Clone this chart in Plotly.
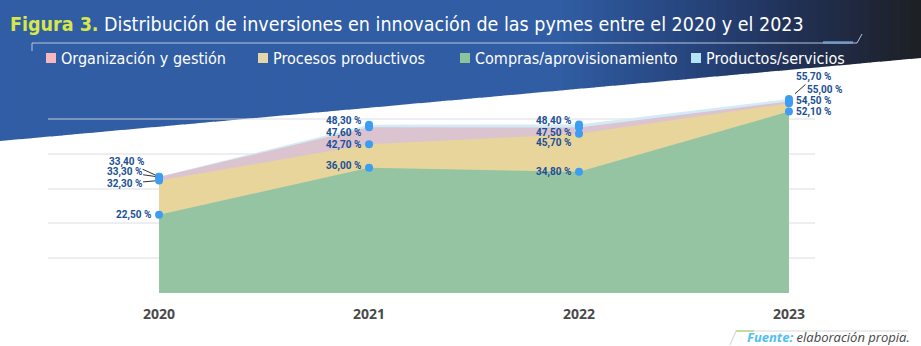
import plotly.graph_objects as go

# Investment shares (%) by innovation type, 2020-2023
years = [2020, 2021, 2022, 2023]
organizacion = [33.3, 47.6, 47.5, 55.0]
procesos = [32.3, 42.7, 45.7, 54.5]
compras = [22.5, 36.0, 34.8, 52.1]
productos = [33.4, 48.3, 48.4, 55.7]
year_labels = ["2020", "2021", "2022", "2023"]

W, H = 921, 346
L, R, T, B = 48, 815, 84, 293  # plot area in pixels


def px(x):
    return (x - L) / (R - L)


def py(y):
    return (B - y) / (B - T)


LABEL_FONT = dict(family="Roboto, Open Sans, sans-serif", size=10, color="#1a4f95", weight="bold")
TITLE_FONT = "Liberation Sans Narrow, DejaVu Sans Condensed, Roboto Condensed, Roboto, sans-serif"

# back-to-front draw order: biggest share behind
series = [
    ("Productos/servicios", productos, "#d3ebf6", "#b4e4f8"),
    ("Organización y gestión", organizacion, "#dbc3cf", "#f5b8bf"),
    ("Procesos productivos", procesos, "#e8d59c", "#e2d6aa"),
    ("Compras/aprovisionamiento", compras, "#95c4a2", "#8cc599"),
]

fig = go.Figure()
for name, vals, fill, _ in series:
    fig.add_trace(go.Scatter(
        x=years, y=vals, name=name, mode="lines", fill="tozeroy",
        fillcolor=fill, line=dict(width=0, color=fill), showlegend=False,
        hoverinfo="skip",
    ))
for name, vals, fill, _ in series:
    fig.add_trace(go.Scatter(
        x=years, y=vals, mode="markers", showlegend=False,
        marker=dict(size=8, color="#3d9df2"), hoverinfo="skip",
    ))

shapes = []
annotations = []

# header banner with a horizontal blue-to-charcoal gradient and slanted lower edge
stops = [(0, (48, 93, 164)), (560, (48, 93, 164)), (700, (38, 67, 122)),
         (800, (33, 48, 84)), (921, (29, 31, 35))]


def grad(x):
    for (x0, c0), (x1, c1) in zip(stops[:-1], stops[1:]):
        if x0 <= x <= x1:
            t = (x - x0) / (x1 - x0) if x1 > x0 else 0
            return "rgb(%d,%d,%d)" % tuple(round(a + (b - a) * t) for a, b in zip(c0, c1))
    return "rgb(%d,%d,%d)" % stops[-1][1]


def edge(x):
    return 141 - x * (83 / 921)


N = 90
for i in range(N):
    x0 = i * W / N
    x1 = min(W, (i + 1) * W / N + 0.8)
    path = "M %f,%f L %f,%f L %f,%f L %f,%f Z" % (
        px(x0), py(0), px(x1), py(0), px(x1), py(edge(x1)), px(x0), py(edge(x0)))
    shapes.append(dict(type="path", path=path, xref="paper", yref="paper",
                       fillcolor=grad((x0 + x1) / 2), line=dict(width=0), layer="below"))

# thin rule under the title
shapes.append(dict(type="path", xref="paper", yref="paper", layer="above",
                   path="M %f,%f L %f,%f L %f,%f L %f,%f" % (px(32), py(51), px(32), py(43), px(857), py(43), px(862), py(34)),
                   line=dict(color="rgba(200,212,230,0.9)", width=1)))
shapes.append(dict(type="line", xref="paper", yref="paper", layer="above",
                   x0=px(823), x1=px(853), y0=py(42.5), y1=py(42.5),
                   line=dict(color="rgba(120,160,205,0.9)", width=2.5)))

# title
annotations.append(dict(
    xref="paper", yref="paper", x=px(8), y=py(24.5), xanchor="left", yanchor="middle",
    showarrow=False,
    text="<span style='color:#d7e64c'><b>Figura 3.</b></span> Distribución de inversiones en innovación de las pymes entre el 2020 y el 2023",
    font=dict(family=TITLE_FONT, size=19.5, color="white"),
))

# legend row
legend_x = [46, 258, 460, 691]
legend_order = [1, 2, 3, 0]
for lx, idx in zip(legend_x, legend_order):
    name, _, _, sw = series[idx]
    shapes.append(dict(type="rect", xref="paper", yref="paper", layer="above",
                       x0=px(lx), x1=px(lx + 10), y0=py(53), y1=py(63),
                       fillcolor=sw, line=dict(width=0)))
    annotations.append(dict(xref="paper", yref="paper", x=px(lx + 13), y=py(58),
                            xanchor="left", yanchor="middle", showarrow=False, text=name,
                            font=dict(family=TITLE_FONT, size=16, color="white")))


def fmt(v):
    return ("%.2f" % v).replace(".", ",") + " %"


# value labels, nudged apart where values sit close together
shifts = {
    2021: {"Productos/servicios": 3.5, "Organización y gestión": -5.5, "Procesos productivos": -1, "Compras/aprovisionamiento": 1.5},
    2022: {"Productos/servicios": 3.5, "Organización y gestión": -5, "Procesos productivos": -9.5, "Compras/aprovisionamiento": 0},
}
for name, vals, _, _ in series:
    for yr, v in zip(years, vals):
        if yr in (2021, 2022):
            annotations.append(dict(x=yr, y=v, xanchor="right", yanchor="middle", xshift=-6,
                                    yshift=shifts[yr][name], showarrow=False, text=fmt(v), font=LABEL_FONT))

# 2020: three close values pointed at the shared dot
annotations.append(dict(x=years[0], y=compras[0], xanchor="right", yanchor="middle", xshift=-6,
                        showarrow=False, text=fmt(compras[0]), font=LABEL_FONT))
for vals, ax, ay in [(productos, -33, -15), (organizacion, -35, -5), (procesos, -35, 3)]:
    annotations.append(dict(x=years[0], y=vals[0], ax=ax, ay=ay, showarrow=True, arrowhead=0,
                            arrowwidth=1, arrowcolor="#333333", standoff=4,
                            text=fmt(vals[0]), font=LABEL_FONT))

# 2023: labels to the right
annotations.append(dict(x=years[3], y=compras[3], xanchor="left", yanchor="middle", xshift=5,
                        showarrow=False, text=fmt(compras[3]), font=LABEL_FONT))
annotations.append(dict(x=years[3], y=procesos[3], xanchor="left", yanchor="middle", xshift=5, yshift=2,
                        showarrow=False, text=fmt(procesos[3]), font=LABEL_FONT))
annotations.append(dict(x=years[3], y=organizacion[3], xanchor="left", yanchor="middle", xshift=16, yshift=11.5,
                        showarrow=False, text=fmt(organizacion[3]), font=LABEL_FONT))
annotations.append(dict(x=years[3], y=productos[3], ax=25, ay=-22, showarrow=True, arrowhead=0,
                        arrowwidth=1, arrowcolor="#333333", standoff=8,
                        text=fmt(productos[3]), font=LABEL_FONT))

# source note
shapes.append(dict(type="path", xref="paper", yref="paper", layer="above",
                   path="M %f,%f L %f,%f L %f,%f" % (px(730), py(345), px(736), py(331), px(908), py(331)),
                   line=dict(color="#d9d9d9", width=1.2)))
shapes.append(dict(type="line", xref="paper", yref="paper", layer="above",
                   x0=px(736), x1=px(754), y0=py(331), y1=py(331),
                   line=dict(color="#b5d98a", width=1.5)))
annotations.append(dict(
    xref="paper", yref="paper", x=px(912), y=py(336.5), xanchor="right", yanchor="middle", showarrow=False,
    text="<span style='color:#4fc0f0'><b><i>Fuente:</i></b></span> <i>elaboración propia.</i>",
    font=dict(family="Open Sans, sans-serif", size=13, color="#444444"),
))

fig.update_layout(
    width=W, height=H,
    margin=dict(l=L, r=W - R, t=T, b=H - B),
    paper_bgcolor="white", plot_bgcolor="rgba(0,0,0,0)",
    shapes=shapes, annotations=annotations,
    showlegend=False,
)
fig.update_xaxes(
    range=[2019.471, 2023.124], tickmode="array", tickvals=years, ticktext=year_labels,
    showgrid=False, zeroline=False, showline=False,
    ticks="outside", ticklen=8, tickcolor="rgba(0,0,0,0)",
    tickfont=dict(family="Open Sans, sans-serif", size=14, color="#4a4a4a", weight="bold"),
)
fig.update_yaxes(
    range=[0, 60.02], dtick=10, showticklabels=False, zeroline=False, showline=False,
    showgrid=True, gridcolor="rgba(214,218,224,0.45)", gridwidth=1.5,
)

fig.write_html("out.html")
